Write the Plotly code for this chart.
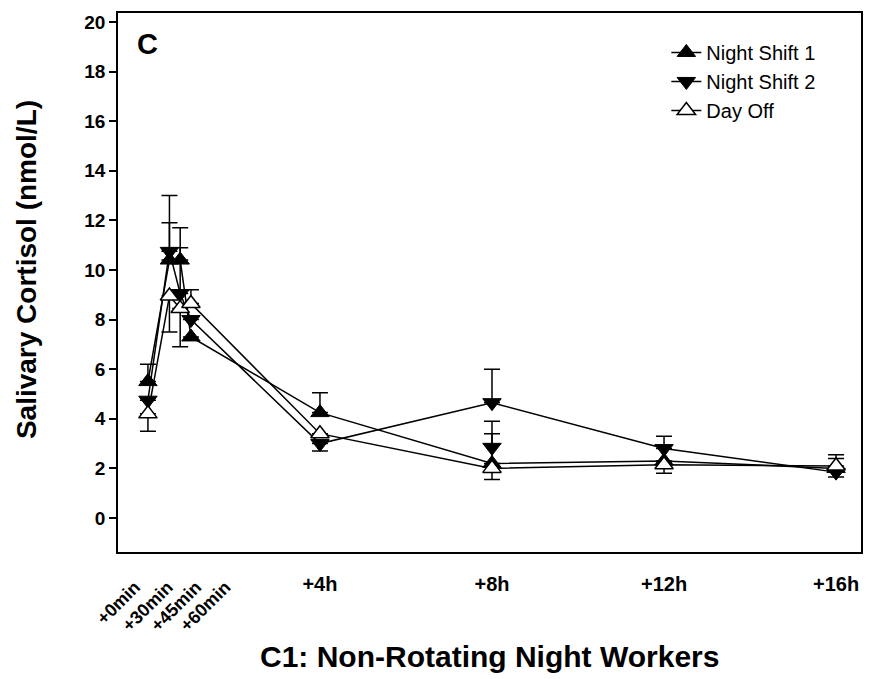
import plotly.graph_objects as go

# Sampling times (hours after waking) and their tick labels
times_h = [0, 0.5, 0.75, 1, 4, 8, 12, 16]
hour_ticks = [4, 8, 12, 16]
hour_labels = ["+4h", "+8h", "+12h", "+16h"]
min_labels = ["+0min", "+30min", "+45min", "+60min"]
min_label_pos = [-0.3, 0.46, 1.12, 1.8]

# Mean salivary cortisol (nmol/L) and one-sided error bars per condition
ns1_mean = [5.5, 10.4, 10.4, 7.3, 4.25, 2.2, 2.3, 2.0]
ns1_err_up = [0.7, 2.6, 1.3, 0, 0.8, 1.7, 0, 0.55]
ns1_err_dn = [0, 0, 0, 0, 0, 0, 0, 0]

ns2_mean = [4.75, 10.75, 9.05, 8.0, 3.0, 4.65, 2.8, 1.85]
ns2_err_up = [0, 1.15, 1.85, 0, 0, 1.35, 0.5, 0]
ns2_err_dn = [0, 0, 0, 0, 0.3, 0, 0, 0.2]

off_mean = [4.2, 8.95, 8.45, 8.65, 3.4, 2.0, 2.15, 2.1]
off_err_up = [0, 0, 0, 0.55, 0, 1.4, 0, 0.3]
off_err_dn = [0.7, 1.45, 1.55, 0, 0, 0.45, 0.35, 0]

# Additional Night Shift 2 reading plotted at +8h
ns2_extra_t = [8]
ns2_extra_val = [2.85]

FONT = "Liberation Sans, Arial, sans-serif"
MSIZE = 16


def err(up, dn):
    return dict(type="data", symmetric=False, array=up, arrayminus=dn,
                color="black", thickness=1.5, width=8)


fig = go.Figure()

fig.add_trace(go.Scatter(
    x=times_h, y=ns1_mean, name="Night Shift 1", mode="lines+markers",
    line=dict(color="black", width=1.5),
    marker=dict(symbol="triangle-up", size=MSIZE, color="black",
                line=dict(color="black", width=1)),
    error_y=err(ns1_err_up, ns1_err_dn)))

fig.add_trace(go.Scatter(
    x=times_h, y=ns2_mean, name="Night Shift 2", mode="lines+markers",
    line=dict(color="black", width=1.5),
    marker=dict(symbol="triangle-down", size=MSIZE, color="black",
                line=dict(color="black", width=1)),
    error_y=err(ns2_err_up, ns2_err_dn)))

fig.add_trace(go.Scatter(
    x=ns2_extra_t, y=ns2_extra_val, name="Night Shift 2", mode="markers",
    showlegend=False,
    marker=dict(symbol="triangle-down", size=MSIZE, color="black",
                line=dict(color="black", width=1))))

fig.add_trace(go.Scatter(
    x=times_h, y=off_mean, name="Day Off", mode="lines+markers",
    line=dict(color="black", width=1.5),
    marker=dict(symbol="triangle-up", size=MSIZE, color="white",
                line=dict(color="black", width=1.5)),
    error_y=err(off_err_up, off_err_dn)))

# Invisible trace that carries the rotated minute labels on a second x axis
fig.add_trace(go.Scatter(x=[min_label_pos[0]], y=[None], xaxis="x2",
                         showlegend=False, hoverinfo="skip"))

x_range = [-0.696, 16.58]

fig.update_layout(
    width=874, height=679,
    margin=dict(l=118, r=11, t=12, b=127),
    paper_bgcolor="white", plot_bgcolor="white",
    font=dict(family=FONT, color="black"),
    showlegend=True,
    legend=dict(x=0.738, y=0.963, xanchor="left", yanchor="top",
                bgcolor="rgba(0,0,0,0)",
                font=dict(family=FONT, size=20, color="black")),
    xaxis=dict(range=x_range, tickmode="array", tickvals=hour_ticks,
               ticktext=hour_labels, ticks="", showgrid=False,
               zeroline=False, showline=True, linecolor="black",
               linewidth=1.5, mirror=True, ticklabelstandoff=13,
               tickfont=dict(family=FONT, size=20, weight="bold")),
    xaxis2=dict(range=x_range, overlaying="x", side="bottom",
                anchor="y", tickmode="array", tickvals=min_label_pos,
                ticktext=min_labels, tickangle=-45, ticks="",
                showgrid=False, zeroline=False, showline=False,
                ticklabelstandoff=20,
                tickfont=dict(family=FONT, size=18, weight="bold")),
    yaxis=dict(range=[-1.37, 20.36], tickmode="array",
               tickvals=list(range(0, 21, 2)), ticks="outside", ticklen=7,
               tickwidth=1.5, tickcolor="black", showgrid=False,
               zeroline=False, showline=True, linecolor="black",
               linewidth=1.5, mirror=True,
               tickfont=dict(family=FONT, size=19, weight="bold")),
)

fig.add_annotation(text="<b>Salivary Cortisol (nmol/L)</b>", textangle=-90,
                   xref="paper", yref="y", x=-0.1223, y=10,
                   xanchor="center", yanchor="middle", showarrow=False,
                   font=dict(family=FONT, size=28, color="black"))
fig.add_annotation(text="<b>C1: Non-Rotating Night Workers</b>",
                   xref="paper", yref="paper", x=0.5, y=-0.1944,
                   xanchor="center", yanchor="middle", showarrow=False,
                   font=dict(family=FONT, size=30, color="black"))
fig.add_annotation(text="<b>C</b>", xref="paper", yref="paper",
                   x=(148 - 118) / 744, y=(552 - 43) / 540,
                   xanchor="center", yanchor="middle", showarrow=False,
                   font=dict(family=FONT, size=29, color="black"))

fig.write_html("out.html")
